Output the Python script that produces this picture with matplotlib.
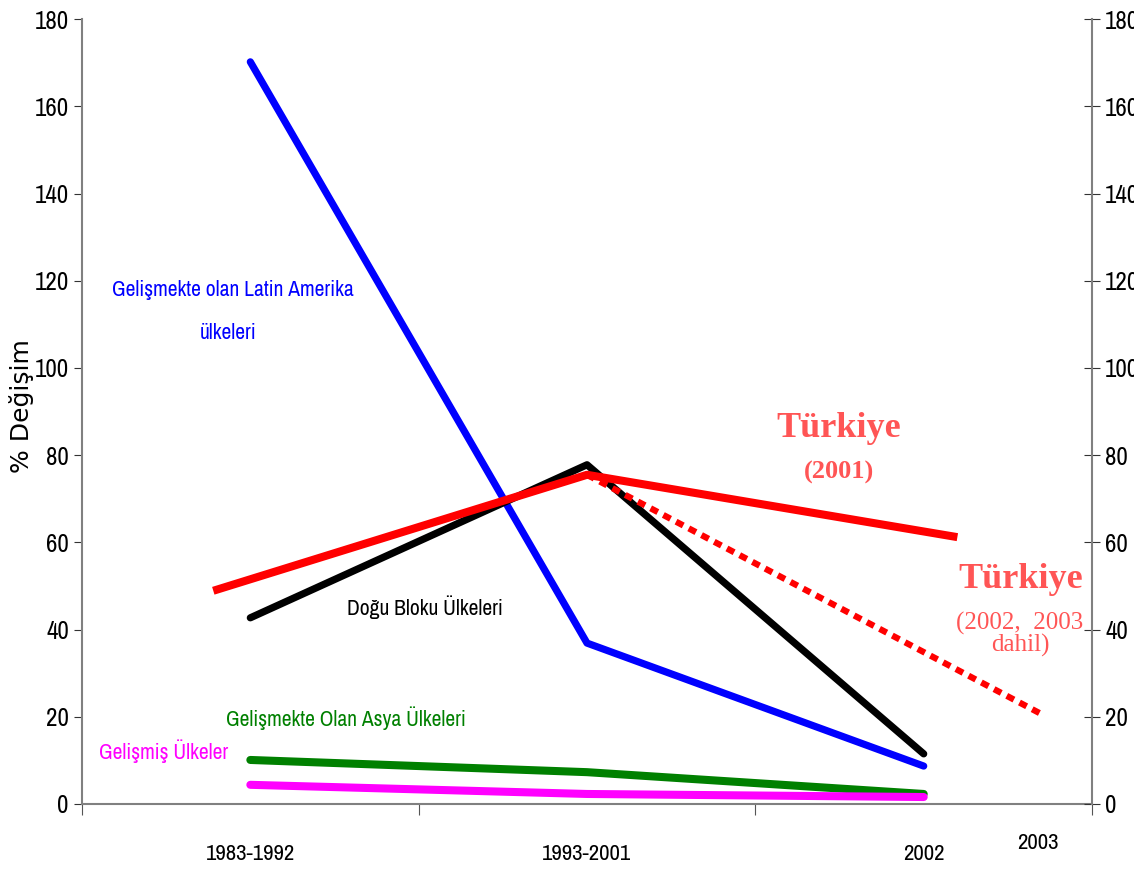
import matplotlib.pyplot as plt

narrow = ['Archivo Narrow', 'DejaVu Sans']
serif = ['Liberation Serif', 'DejaVu Serif']

# donemler
donemler = ['1983-1992', '1993-2001', '2002']
latin = [170.2, 36.9, 8.7]
dogu = [42.7, 77.8, 11.5]
asya = [10.1, 7.3, 2.3]
gelismis = [4.4, 2.3, 1.6]
# Turkiye cizgileri ayri x konumlariyla
turkiye_x = [-0.11, 1, 2.1]
turkiye = [48.9, 75.5, 61.2]
turkiye2_x = [1, 2.36]
turkiye2 = [75.5, 20.2]

fig = plt.figure(figsize=(11.34, 8.69), dpi=100)
ax = fig.add_axes([0.0723, 0.0748, 0.8907, 0.9032])
x = range(len(donemler))

ax.plot(x, latin, color='#0000FF', lw=5.2, solid_capstyle='round')
ax.plot(x, dogu, color='black', lw=5.2, solid_capstyle='round')
ax.plot(x, asya, color='#008000', lw=5.8, solid_capstyle='round')
ax.plot(x, gelismis, color='#FF00FF', lw=5.8, solid_capstyle='round')
ax.plot(turkiye_x, turkiye, color='#FF0000', lw=5.8, solid_capstyle='butt')
ax.plot(turkiye2_x, turkiye2, color='#FF0000', lw=4.5, linestyle=(0, (1.3, 1.0)))

ax.set_xlim(-0.5, 2.5)
ax.set_ylim(0, 180)
ax.set_yticks(range(0, 181, 20))
ax.set_xticks([-0.5, 0.5, 1.5, 2.5])
ax.set_xticklabels([])
ax.set_xticks(list(x), minor=True)
ax.set_xticklabels(donemler, minor=True, fontsize=16.5, family=narrow)
ax.tick_params(axis='x', which='major', direction='out', length=8, color='#555555')
ax.tick_params(axis='x', which='minor', length=0, pad=29)
ax.tick_params(axis='y', direction='out', length=6, labelsize=18, color='#333333')
for lab in ax.get_yticklabels():
    lab.set_family(narrow)

for s in ['top', 'right']:
    ax.spines[s].set_visible(False)
ax.spines['left'].set_color('#808080')
ax.spines['bottom'].set_color('#808080')
ax.spines['left'].set_linewidth(1.5)
ax.spines['bottom'].set_linewidth(1.5)

# sag eksen
ax2 = ax.twinx()
ax2.set_ylim(0, 180)
ax2.set_yticks(range(0, 181, 20))
ax2.tick_params(axis='y', direction='inout', length=12, labelsize=18, color='#333333')
for lab in ax2.get_yticklabels():
    lab.set_family(narrow)
for s in ['top', 'left', 'bottom']:
    ax2.spines[s].set_visible(False)
ax2.spines['right'].set_color('#808080')
ax2.spines['right'].set_linewidth(1.5)

ax.text(2.34, -9, '2003', fontsize=16.5, family=narrow, ha='center', va='center', clip_on=False)

fig.text(0.0194, 1 - 406 / 869, '% Değişim', rotation=90, fontsize=18,
         family='DejaVu Sans', ha='center', va='center')

# seri isimleri
ax.text(-0.053, 117.9, 'Gelişmekte olan Latin Amerika', color='#0000FF', fontsize=15.5,
        family=narrow, ha='center', va='center')
ax.text(-0.065, 108, 'ülkeleri', color='#0000FF', fontsize=15.5,
        family=narrow, ha='center', va='center')
ax.text(0.518, 45.2, 'Doğu Bloku Ülkeleri', color='black', fontsize=15.5,
        family=narrow, ha='center', va='center')
ax.text(0.283, 19.7, 'Gelişmekte Olan Asya Ülkeleri', color='#008000', fontsize=15.5,
        family=narrow, ha='center', va='center')
ax.text(-0.258, 12.2, 'Gelişmiş Ülkeler', color='#FF00FF', fontsize=15.5,
        family=narrow, ha='center', va='center')

kirmizi = '#FF5555'
ax.text(1.747, 86.2, 'Türkiye', color=kirmizi, fontsize=26, fontweight='bold',
        family=serif, ha='center', va='center')
ax.text(1.747, 76.1, '(2001)', color=kirmizi, fontsize=19, fontweight='bold',
        family=serif, ha='center', va='center')
ax.text(2.289, 51.4, 'Türkiye', color=kirmizi, fontsize=26, fontweight='bold',
        family=serif, ha='center', va='center')
ax.text(2.286, 41.5, '(2002,  2003', color=kirmizi, fontsize=18,
        family=serif, ha='center', va='center')
ax.text(2.286, 36.3, 'dahil)', color=kirmizi, fontsize=18,
        family=serif, ha='center', va='center')

fig.savefig('out.png', dpi=100)
